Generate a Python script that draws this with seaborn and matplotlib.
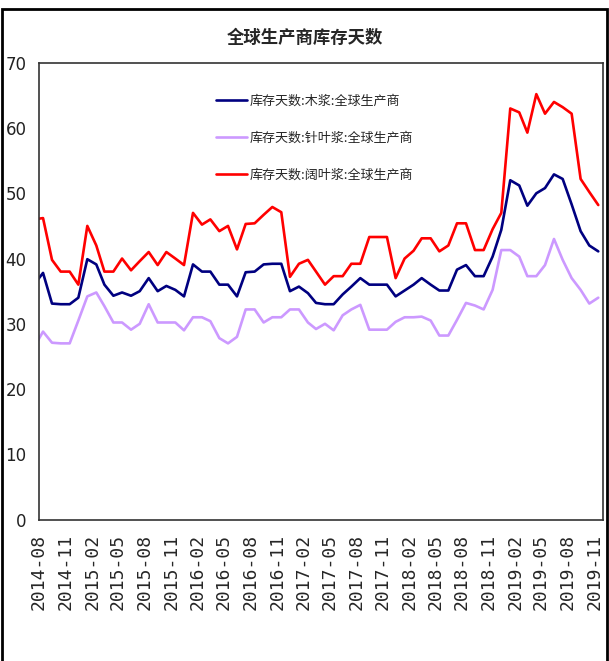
import pandas as pd
import matplotlib.pyplot as plt
import seaborn as sns

# monthly values, 2014-07 .. 2019-11 (first month sits just left of the axis)
months = pd.date_range("2014-07-01", "2019-11-01", freq="MS")

wood = [36, 37.8, 33.1, 33, 33, 34, 39.9, 39.1, 36, 34.3, 34.8, 34.3, 35, 37, 35, 35.8,
        35.2, 34.2, 39.1, 38, 38, 36, 36, 34.2, 37.9, 38, 39.1, 39.2, 39.2, 35, 35.7, 34.7,
        33.2, 33, 33, 34.5, 35.7, 37, 36, 36, 36, 34.2, 35.1, 36, 37, 36, 35.1, 35.1,
        38.3, 39, 37.3, 37.3, 40.3, 44.4, 52, 51.2, 48.1, 50, 50.8, 52.9, 52.2, 48.3, 44.2, 42,
        41.1]
softwood = [26.4, 28.8, 27.1, 27, 27, 30.5, 34.2, 34.8, 32.7, 30.2, 30.2, 29.1, 30, 33, 30.2, 30.2,
            30.2, 29, 31, 31, 30.4, 27.8, 27, 28, 32.2, 32.2, 30.2, 31, 31, 32.2, 32.2, 30.2,
            29.2, 30, 29, 31.3, 32.2, 32.9, 29.1, 29.1, 29.1, 30.3, 31, 31, 31.1, 30.5, 28.2, 28.2,
            30.6, 33.2, 32.8, 32.2, 35.2, 41.3, 41.3, 40.3, 37.3, 37.3, 39, 43, 39.8, 37, 35.2, 33.1,
            34]
hardwood = [46, 46.2, 39.8, 38, 38, 36, 45, 42, 38, 38, 40, 38.2, 39.6, 41, 39, 41,
            40, 39, 47, 45.2, 46, 44.2, 45, 41.4, 45.3, 45.4, 46.7, 47.9, 47.1, 37.2, 39.2, 39.8,
            38, 36, 37.3, 37.3, 39.2, 39.2, 43.3, 43.3, 43.3, 37, 40, 41.2, 43.1, 43.1, 41.1, 42,
            45.4, 45.4, 41.3, 41.3, 44.5, 47, 63, 62.4, 59.3, 65.2, 62.2, 64, 63.2, 62.2, 52.2, 50.2,
            48.2]

names = ["库存天数:木浆:全球生产商", "库存天数:针叶浆:全球生产商", "库存天数:阔叶浆:全球生产商"]
colors = ["#000080", "#CC99FF", "#FF0000"]

df = pd.DataFrame({"date": months + pd.Timedelta(days=14),
                   names[0]: wood, names[1]: softwood, names[2]: hardwood})
long_df = df.melt(id_vars="date", var_name="series", value_name="days")

sns.set_style("white")
plt.rcParams["font.family"] = ["Noto Sans CJK SC", "DejaVu Sans"]

fig = plt.figure(figsize=(6.09, 6.61), dpi=100)
ax = fig.add_axes([0.064, 0.214, 0.926, 0.691])

sns.lineplot(data=long_df, x="date", y="days", hue="series", hue_order=names,
             palette=colors, linewidth=1.9, ax=ax)

ax.set_xlim(pd.Timestamp("2014-08-01"), pd.Timestamp("2019-12-01"))
ax.set_ylim(0, 70)
ticks = pd.date_range("2014-08-01", "2019-11-01", freq="3MS")
ax.set_xticks(ticks)
ax.set_xticklabels([t.strftime("%Y-%m") for t in ticks], rotation=90,
                   family="DejaVu Sans Mono", fontsize=13)
ax.set_yticks(range(0, 71, 10))
ax.set_yticklabels([str(v) for v in range(0, 71, 10)], family="DejaVu Sans",
                   fontsize=12, color="#222222")
ax.tick_params(axis="y", direction="in", length=4, pad=9)
ax.tick_params(axis="x", direction="in", length=4, pad=10)
ax.set_xlabel("")
ax.set_ylabel("")
for s in ax.spines.values():
    s.set_color("#333333")
    s.set_linewidth(1.2)

handles, labels = ax.get_legend_handles_labels()
ax.legend(handles, labels, loc="upper left", bbox_to_anchor=(0.335, 0.875),
          bbox_transform=fig.transFigure, frameon=False, fontsize=9.4,
          handlelength=2.4, handletextpad=0.2, labelspacing=1.85)

fig.text(0.5, 0.943, "全球生产商库存天数", ha="center", va="center",
         fontsize=12.5, fontweight="bold")

# outer frame of the picture
frame = plt.Rectangle((0.004, -0.05), 0.992, 1.037, transform=fig.transFigure,
                      fill=False, edgecolor="black", linewidth=2)
fig.patches.append(frame)

fig.savefig("out.png", dpi=100)
